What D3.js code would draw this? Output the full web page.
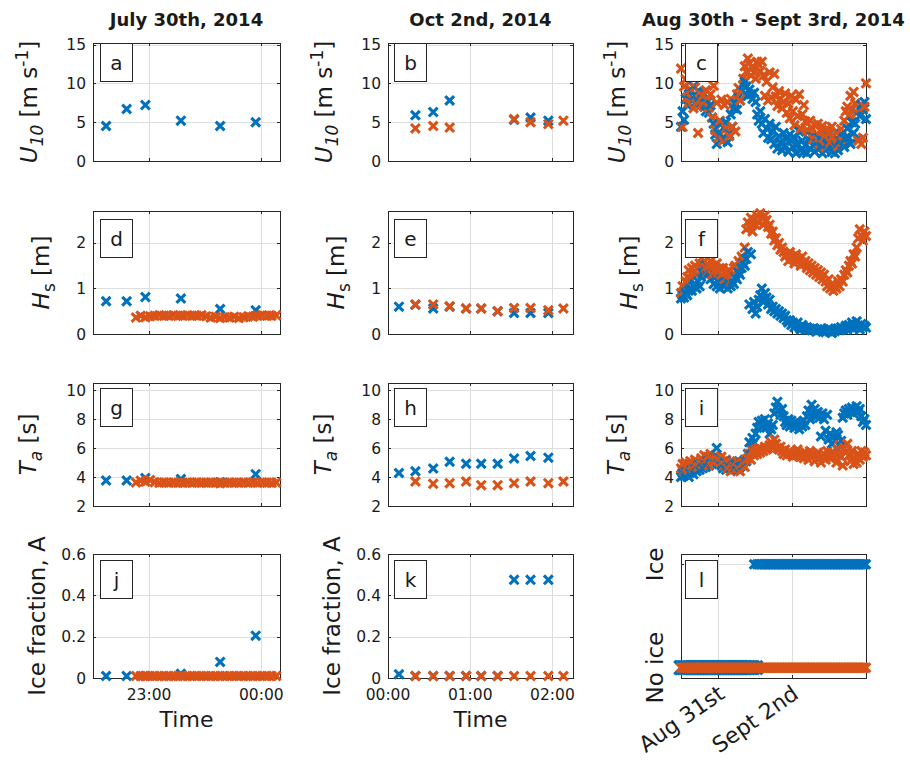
<!DOCTYPE html>
<html>
<head>
<meta charset="utf-8">
<script src="https://cdn.jsdelivr.net/npm/d3@7"></script>
<style>
  body { margin: 0; background: #fff; }
  text { font-family: "DejaVu Sans", sans-serif; fill: #1a1a1a; }
</style>
</head>
<body>
<svg id="fig" width="910" height="762"></svg>
<script>
// ---------- column titles and panel letters ----------
const colTitles = ["July 30th, 2014", "Oct 2nd, 2014", "Aug 30th - Sept 3rd, 2014"];
const panelLetters = [["a","b","c"],["d","e","f"],["g","h","i"],["j","k","l"]];

// ---------- July 30th, 2014 ----------
const julyBlueTimes = ["22:37","22:48","22:58","23:17","23:38","23:57"];
const julyBlueU10 = [4.5, 6.7, 7.2, 5.2, 4.5, 5.0];
const julyBlueHs  = [0.72, 0.72, 0.81, 0.78, 0.55, 0.52];
const julyBlueTa  = [3.76, 3.76, 3.93, 3.86, 3.65, 4.2];
const julyBlueA   = [0.01, 0.01, 0.01, 0.02, 0.078, 0.205];

const julyOrangeStart = "2014-07-30 22:53";
const julyOrangeStepMin = 2.5;
const julyOrangeHs = [0.36,0.40,0.37,0.39,0.40,0.41,0.40,0.40,0.41,0.40,
                      0.40,0.41,0.40,0.40,0.41,0.39,0.36,0.38,0.35,0.37,
                      0.36,0.38,0.35,0.37,0.39,0.38,0.40,0.41,0.40,0.40,0.41];
const julyOrangeTa = [3.62,3.75,3.68,3.80,3.64,3.60,3.62,3.60,3.62,3.60,
                      3.60,3.62,3.60,3.63,3.60,3.60,3.62,3.60,3.58,3.60,
                      3.62,3.60,3.60,3.62,3.60,3.63,3.60,3.62,3.60,3.60,3.62];
const julyOrangeA  = [0.01,0.01,0.01,0.01,0.01,0.01,0.01,0.01,0.01,0.01,
                      0.01,0.01,0.01,0.01,0.01,0.01,0.01,0.01,0.01,0.01,
                      0.01,0.01,0.01,0.01,0.01,0.01,0.01,0.01,0.01,0.01,0.01];

// ---------- Oct 2nd, 2014 ----------
const octTimes = ["00:08","00:20","00:33","00:45","00:57","01:08","01:20","01:32","01:44","01:57","02:08"];
const octBlueU10   = [null, 5.9, 6.3, 7.8, null, null, null, 5.3, 5.6, 5.2, null];
const octOrangeU10 = [null, 4.2, 4.5, 4.3, null, null, null, 5.4, 5.0, 4.75, 5.2];
const octBlueHs    = [0.60, 0.64, 0.56, 0.60, 0.56, 0.56, 0.50, 0.46, 0.46, 0.46, null];
const octOrangeHs  = [null, 0.65, 0.65, 0.61, 0.56, 0.56, 0.50, 0.57, 0.57, 0.52, 0.56];
const octBlueTa    = [4.28, 4.40, 4.59, 5.06, 4.92, 4.92, 4.92, 5.29, 5.46, 5.34, null];
const octOrangeTa  = [null, 3.69, 3.53, 3.58, 3.69, 3.44, 3.44, 3.58, 3.69, 3.58, 3.69];
const octBlueA     = [0.018, 0.01, 0.01, 0.01, 0.01, 0.01, 0.01, 0.475, 0.475, 0.475, null];
const octOrangeA   = [null, 0.01, 0.01, 0.01, 0.01, 0.01, 0.01, 0.01, 0.01, 0.01, 0.01];

// ---------- Aug 30th - Sept 3rd, 2014 (hourly records) ----------
const augStart = "2014-08-30 00:00";
const augEnd = "2014-09-04 00:00";
const augBlueU10 = [
  4.4, 6.4, 5.3, 8.0, 7.2, 8.6, 9.2, 7.8, 9.6, 8.4,
  7.6, 9.0, 8.2, 7.4, 8.8, 7.0, 6.4, 7.6, 6.2, 7.2,
  5.6, 4.8, 3.4, 2.2, 3.6, 4.8, 2.6, 3.0, 4.2, 5.0,
  2.4, 3.4, 6.0, 4.4, 6.8, 7.4, 6.6, 8.2, 7.8, 9.0,
  9.8, 10.2, 9.6, 8.4, 9.2, 8.6, 8.0, 8.8, 7.6, 6.0,
  5.2, 6.4, 4.8, 3.6, 5.4, 4.2, 3.0, 4.8, 2.8, 3.8,
  2.2, 4.4, 1.6, 3.2, 2.4, 1.4, 3.6, 2.0, 2.8, 1.2,
  3.4, 2.6, 1.8, 3.0, 1.0, 2.2, 3.8, 1.4, 2.6, 1.2,
  2.0, 1.0, 2.8, 1.6, 3.2, 2.0, 1.2, 2.4, 1.6, 3.0,
  1.8, 1.0, 2.6, 1.4, 2.2, 3.4, 1.8, 1.2, 2.4, 1.0,
  1.8, 1.4, 2.6, 3.4, 2.2, 1.8, 3.0, 4.2, 3.0, 2.2,
  5.0, 3.6, 4.8, 6.2, 2.8, 5.8, 7.2, 6.6, 7.6, 5.4];
const augOrangeU10 = [
  11.9, 4.4, 9.6, 10.5, 8.2, 7.5, 9.2, 8.0, 6.8, 9.5,
  7.4, 3.6, 8.8, 7.2, 8.4, 7.0, 9.1, 7.8, 6.9, 8.6,
  5.6, 9.7, 4.0, 7.5, 3.0, 5.2, 7.9, 2.6, 7.2, 4.2,
  7.6, 3.2, 8.0, 4.4, 7.4, 3.8, 8.6, 9.4, 7.8, 9.0,
  10.6, 12.2, 11.5, 13.2, 12.6, 11.0, 12.0, 11.4, 10.6, 12.8,
  12.4, 11.6, 12.8, 11.0, 8.4, 10.2, 7.8, 11.4, 8.2, 9.5,
  11.2, 8.3, 7.1, 9.0, 8.0, 6.8, 7.6, 8.7, 6.2, 7.4,
  5.5, 8.4, 6.4, 4.6, 7.9, 5.8, 8.6, 4.2, 6.0, 7.2,
  5.1, 4.0, 3.8, 5.2, 4.3, 2.8, 4.6, 3.4, 4.8, 2.2,
  3.9, 4.5, 3.0, 1.8, 4.2, 3.5, 2.4, 4.4, 3.2, 2.6,
  3.8, 1.9, 3.3, 4.1, 2.5, 5.2, 6.4, 7.0, 5.8, 8.4,
  6.6, 8.9, 7.4, 6.2, 2.6, 6.8, 2.2, 3.0, 7.0, 10.0];
const augBlueHs = [
  0.78, 0.85, 0.80, 0.90, 0.85, 0.95, 1.00, 0.95, 1.05, 1.10,
  1.00, 1.15, 1.05, 1.25, 1.35, 1.45, 1.50, 1.30, 1.35, 1.20,
  1.30, 1.10, 1.25, 1.05, 1.15, 1.00, 1.20, 1.10, 1.05, 1.15,
  1.00, 1.10, 1.05, 1.15, 1.10, 1.25, 1.20, 1.35, 1.30, 1.45,
  1.55, 1.50, 1.65, 1.80, 0.65, 1.75, 0.55, 0.70, 0.45, 0.60,
  0.75, 0.85, 1.00, 0.70, 0.90, 0.80, 0.65, 0.75, 0.55, 0.60,
  0.50, 0.55, 0.45, 0.50, 0.40, 0.45, 0.35, 0.40, 0.30, 0.25,
  0.30, 0.20, 0.25, 0.15, 0.20, 0.25, 0.15, 0.10, 0.20, 0.15,
  0.10, 0.15, 0.10, 0.12, 0.08, 0.12, 0.10, 0.05, 0.10, 0.08,
  0.12, 0.06, 0.10, 0.04, 0.08, 0.12, 0.05, 0.02, 0.08, 0.06,
  0.10, 0.12, 0.08, 0.15, 0.10, 0.12, 0.18, 0.10, 0.20, 0.15,
  0.25, 0.12, 0.20, 0.28, 0.18, 0.10, 0.22, 0.15, 0.18, 0.14];
const augOrangeHs = [
  0.90, 1.05, 0.95, 1.15, 1.25, 1.40, 1.20, 1.45, 1.35, 1.50,
  1.30, 1.45, 1.55, 1.40, 1.55, 1.60, 1.45, 1.35, 1.50, 1.60,
  1.30, 1.50, 1.40, 1.55, 1.35, 1.45, 1.30, 1.45, 1.20, 1.35,
  1.25, 1.40, 1.15, 1.30, 1.45, 1.50, 1.40, 1.60, 1.55, 1.70,
  1.65, 1.90, 2.30, 2.45, 2.35, 2.55, 2.25, 2.50, 2.40, 2.60,
  2.45, 2.65, 2.55, 2.40, 2.60, 2.50, 2.35, 2.40, 2.20, 2.25,
  2.05, 2.10, 1.95, 2.00, 1.85, 1.90, 1.80, 1.70, 1.75, 1.60,
  1.80, 1.65, 1.70, 1.55, 1.75, 1.60, 1.65, 1.50, 1.70, 1.55,
  1.60, 1.45, 1.55, 1.40, 1.50, 1.35, 1.45, 1.30, 1.40, 1.25,
  1.35, 1.20, 1.30, 1.15, 1.05, 1.20, 1.00, 1.10, 0.95, 1.05,
  1.00, 1.15, 1.05, 1.20, 1.15, 1.30, 1.40, 1.35, 1.50, 1.60,
  1.55, 1.75, 1.70, 1.90, 2.10, 2.30, 2.15, 2.05, 2.25, 2.15];
const augBlueTa = [
  4.0, 4.3, 4.1, 4.4, 4.2, 4.0, 4.3, 4.5, 4.2, 4.6,
  4.4, 4.8, 4.5, 4.9, 4.6, 5.0, 4.7, 5.1, 4.8, 5.2,
  4.9, 5.0, 5.4, 6.0, 5.3, 5.0, 4.8, 4.6, 5.0, 4.5,
  4.7, 4.9, 4.6, 5.1, 4.8, 4.6, 4.9, 4.5, 4.7, 5.0,
  4.8, 5.2, 5.1, 5.6, 6.4, 6.0, 6.7, 6.4, 7.0, 7.4,
  7.8, 7.5, 7.9, 7.6, 8.0, 7.4, 7.7, 7.0, 7.3, 7.6,
  8.4, 8.8, 9.2, 8.6, 8.3, 8.7, 8.2, 7.8, 7.6, 8.0,
  7.5, 7.9, 7.7, 7.4, 7.8, 7.6, 7.3, 7.7, 7.5, 7.9,
  7.6, 8.2, 8.6, 8.0, 9.0, 8.4, 8.7, 8.2, 8.5, 8.1,
  6.8, 8.4, 8.0, 7.2, 8.3, 6.6, 7.0, 6.3, 6.8, 6.5,
  7.1, 6.9, 6.2, 6.5, 8.1, 8.4, 8.6, 8.3, 8.7, 8.5,
  8.8, 8.4, 8.6, 8.9, 8.5, 8.7, 8.2, 7.8, 8.0, 7.6];
const augOrangeTa = [
  4.6, 4.9, 4.4, 5.0, 4.7, 4.5, 5.1, 4.8, 4.6, 5.2,
  4.9, 4.7, 5.0, 5.3, 4.9, 5.5, 5.1, 5.4, 4.8, 5.6,
  5.2, 5.0, 5.5, 5.3, 5.2, 5.0, 5.4, 5.1, 4.8, 5.2,
  4.6, 4.9, 4.4, 5.0, 4.7, 4.5, 5.1, 4.6, 4.4, 4.9,
  5.0, 4.7, 5.2, 5.3, 5.6, 5.2, 5.8, 5.5, 5.9, 5.6,
  6.0, 5.7, 5.9, 5.8, 6.1, 5.9, 6.0, 6.2, 6.4, 6.1,
  6.6, 6.3, 6.0, 5.9, 6.1, 5.8, 5.6, 5.9, 5.5, 5.7,
  5.8, 5.6, 5.4, 5.7, 5.5, 5.9, 5.6, 5.4, 5.6, 5.3,
  5.7, 5.5, 5.2, 5.8, 5.4, 5.6, 5.1, 5.5, 5.7, 5.3,
  5.0, 5.4, 5.6, 5.2, 5.8, 5.5, 5.3, 5.7, 5.4, 5.6,
  5.0, 5.9, 6.2, 5.4, 4.8, 6.0, 5.7, 6.3, 5.5, 5.1,
  5.8, 4.9, 5.3, 5.0, 5.6, 5.2, 5.8, 5.4, 5.7, 5.5];
// ice flag: 0 = no ice, 1 = ice
const augBlueIce = [
  0,0,0,0,0,0,0,0,0,0, 0,0,0,0,0,0,0,0,0,0,
  0,0,0,0,0,0,0,0,0,0, 0,0,0,0,0,0,0,0,0,0,
  0,0,0,0,0,0,0,1,0,1, 1,1,1,1,1,1,1,1,1,1,
  1,1,1,1,1,1,1,1,1,1, 1,1,1,1,1,1,1,1,1,1,
  1,1,1,1,1,1,1,1,1,1, 1,1,1,1,1,1,1,1,1,1,
  1,1,1,1,1,1,1,1,1,1, 1,1,1,1,1,1,1,1,1,1];
const augOrangeIce = [
  0,0,0,0,0,0,0,0,0,0, 0,0,0,0,0,0,0,0,0,0,
  0,0,0,0,0,0,0,0,0,0, 0,0,0,0,0,0,0,0,0,0,
  0,0,0,0,0,0,0,0,0,0, 0,0,0,0,0,0,0,0,0,0,
  0,0,0,0,0,0,0,0,0,0, 0,0,0,0,0,0,0,0,0,0,
  0,0,0,0,0,0,0,0,0,0, 0,0,0,0,0,0,0,0,0,0,
  0,0,0,0,0,0,0,0,0,0, 0,0,0,0,0,0,0,0,0,0];

// ---------- axis limits and ticks ----------
const xDomainText = [["2014-07-30 22:30","2014-07-31 00:10"],["2014-10-02 00:00","2014-10-02 02:15"],["2014-08-30 00:00","2014-09-04 00:00"]];
const xTickText = [["2014-07-30 23:00","2014-07-31 00:00"],["2014-10-02 00:00","2014-10-02 01:00","2014-10-02 02:00"],["2014-08-31 00:00","2014-09-02 00:00"]];
const xTickLabels = [["23:00","00:00"],["00:00","01:00","02:00"],["Aug 31st","Sept 2nd"]];
const yDomains = [[0, 15.2], [0, 2.7], [2, 10.5], [0, 0.6]];
const yTicks = [[0,5,10,15],[0,1,2],[2,4,6,8,10],[0,0.2,0.4,0.6]];
const yTickLabels = [["0","5","10","15"],["0","1","2"],["2","4","6","8","10"],["0","0.2","0.4","0.6"]];
const iceDomain = [-0.1, 1.1];
const iceTicks = [0, 1];
const iceTickLabels = ["No ice", "Ice"];

// ---------- layout & style ----------
const BLUE = "#0072BD", ORANGE = "#D95319", AXIS = "#262626", GRID = "#dedede";
const colLeft = [93, 388, 681];
const colWidth = [187, 185, 185];
const rowTop = [43, 211, 383, 554];
const rowHeight = [118, 123, 123, 124];
const ylabelOffset = [-56, -44, -57, -48];
const letterDx = [7, 6, 4];
const letterDy = [0, 8, 5, 6];

const parseT = d3.timeParse("%Y-%m-%d %H:%M");
const svg = d3.select("#fig");

// time stamps
const julyBlueT = julyBlueTimes.map(s => parseT("2014-07-30 " + s));
const julyOrangeT0 = parseT(julyOrangeStart);
const julyOrangeT = julyOrangeHs.map((_, k) => new Date(julyOrangeT0.getTime() + k * julyOrangeStepMin * 60000));
const octT = octTimes.map(s => parseT("2014-10-02 " + s));
const augT0 = parseT(augStart), augT1 = parseT(augEnd);
const augT = augBlueU10.map((_, i) => new Date(augT0.getTime() + i * (augT1 - augT0) / (augBlueU10.length - 1)));

const zip = (ts, vs) => ts.map((t, i) => ({t, v: vs[i]})).filter(d => d.v !== null && d.v !== undefined);

// series per [row][col]
const panels = [
  [
    [{d: zip(julyBlueT, julyBlueU10), c: BLUE}],
    [{d: zip(octT, octBlueU10), c: BLUE}, {d: zip(octT, octOrangeU10), c: ORANGE}],
    [{d: zip(augT, augBlueU10), c: BLUE}, {d: zip(augT, augOrangeU10), c: ORANGE}]
  ],
  [
    [{d: zip(julyBlueT, julyBlueHs), c: BLUE}, {d: zip(julyOrangeT, julyOrangeHs), c: ORANGE}],
    [{d: zip(octT, octBlueHs), c: BLUE}, {d: zip(octT, octOrangeHs), c: ORANGE}],
    [{d: zip(augT, augBlueHs), c: BLUE}, {d: zip(augT, augOrangeHs), c: ORANGE}]
  ],
  [
    [{d: zip(julyBlueT, julyBlueTa), c: BLUE}, {d: zip(julyOrangeT, julyOrangeTa), c: ORANGE}],
    [{d: zip(octT, octBlueTa), c: BLUE}, {d: zip(octT, octOrangeTa), c: ORANGE}],
    [{d: zip(augT, augBlueTa), c: BLUE}, {d: zip(augT, augOrangeTa), c: ORANGE}]
  ],
  [
    [{d: zip(julyBlueT, julyBlueA), c: BLUE}, {d: zip(julyOrangeT, julyOrangeA), c: ORANGE}],
    [{d: zip(octT, octBlueA), c: BLUE}, {d: zip(octT, octOrangeA), c: ORANGE}],
    [{d: zip(augT, augBlueIce), c: BLUE, big: true}, {d: zip(augT, augOrangeIce), c: ORANGE}]
  ]
];

const ylabels = [
  [{t: "U", it: 1}, {t: "10", it: 1, sub: 1}, {t: " [m s"}, {t: "-1", sup: 1}, {t: "]"}],
  [{t: "H", it: 1}, {t: "s", sub: 1}, {t: " [m]"}],
  [{t: "T", it: 1}, {t: "a", it: 1, sub: 1}, {t: " [s]"}],
  [{t: "Ice fraction, A"}]
];

const xMark = r => `M${-r},${-r}L${r},${r}M${-r},${r}L${r},${-r}`;

function drawYLabel(g, x, yc, parts) {
  const txt = g.append("text")
    .attr("transform", `translate(${x},${yc}) rotate(-90)`)
    .attr("text-anchor", "middle")
    .style("font-size", "23px");
  let shift = 0;
  parts.forEach(p => {
    const target = p.sub ? 6 : (p.sup ? -9 : 0);
    const ts = txt.append("tspan").text(p.t).attr("dy", target - shift);
    shift = target;
    if (p.it) ts.style("font-style", "italic");
    if (p.sub || p.sup) ts.style("font-size", "17px");
  });
}

for (let r = 0; r < 4; r++) {
  for (let c = 0; c < 3; c++) {
    const x0 = colLeft[c], w = colWidth[c], y0 = rowTop[r], h = rowHeight[r];
    const isIce = (r === 3 && c === 2);
    const x = d3.scaleTime().domain(xDomainText[c].map(parseT)).range([x0, x0 + w]);
    const y = d3.scaleLinear().domain(isIce ? iceDomain : yDomains[r]).range([y0 + h, y0]);
    const ticksY = isIce ? iceTicks : yTicks[r];
    const ticksX = xTickText[c].map(parseT);
    const g = svg.append("g");

    // grid
    g.selectAll(null).data(ticksX).join("line")
      .attr("x1", d => Math.round(x(d)) + 0.5).attr("x2", d => Math.round(x(d)) + 0.5)
      .attr("y1", y0).attr("y2", y0 + h).attr("stroke", GRID).attr("stroke-width", 1);
    g.selectAll(null).data(ticksY).join("line")
      .attr("y1", d => Math.round(y(d)) + 0.5).attr("y2", d => Math.round(y(d)) + 0.5)
      .attr("x1", x0).attr("x2", x0 + w).attr("stroke", GRID).attr("stroke-width", 1);

    // box
    g.append("rect").attr("x", x0 + 0.5).attr("y", y0 + 0.5).attr("width", w).attr("height", h)
      .attr("fill", "none").attr("stroke", AXIS).attr("stroke-width", 1);

    // inward ticks on all sides
    const tl = 3;
    ticksX.forEach(t => {
      const xx = Math.round(x(t)) + 0.5;
      g.append("line").attr("x1", xx).attr("x2", xx).attr("y1", y0 + h).attr("y2", y0 + h - tl).attr("stroke", AXIS);
      g.append("line").attr("x1", xx).attr("x2", xx).attr("y1", y0).attr("y2", y0 + tl).attr("stroke", AXIS);
    });
    ticksY.forEach(v => {
      const yy = Math.round(y(v)) + 0.5;
      g.append("line").attr("y1", yy).attr("y2", yy).attr("x1", x0).attr("x2", x0 + tl).attr("stroke", AXIS);
      g.append("line").attr("y1", yy).attr("y2", yy).attr("x1", x0 + w).attr("x2", x0 + w - tl).attr("stroke", AXIS);
    });

    // y tick labels
    if (isIce) {
      ticksY.forEach((v, k) => {
        g.append("text").attr("transform", `translate(${x0 - 18},${y(v)}) rotate(-90)`)
          .attr("text-anchor", "middle").style("font-size", "23px").text(iceTickLabels[k]);
      });
    } else {
      ticksY.forEach((v, k) => {
        g.append("text").attr("x", x0 - 7).attr("y", y(v)).attr("dy", "0.36em")
          .attr("text-anchor", "end").style("font-size", "15.5px").text(yTickLabels[r][k]);
      });
      drawYLabel(g, x0 + ylabelOffset[r], y0 + h / 2, ylabels[r]);
    }

    // x tick labels on the bottom row
    if (r === 3) {
      if (c === 2) {
        ticksX.forEach((t, k) => {
          g.append("text").attr("transform", `translate(${x(t) + 8},${y0 + h + 19}) rotate(-35)`)
            .attr("text-anchor", "end").style("font-size", "22px").text(xTickLabels[c][k]);
        });
      } else {
        ticksX.forEach((t, k) => {
          g.append("text").attr("x", x(t)).attr("y", y0 + h + 22)
            .attr("text-anchor", "middle").style("font-size", "15.5px").text(xTickLabels[c][k]);
        });
        g.append("text").attr("x", x0 + w / 2).attr("y", y0 + h + 49)
          .attr("text-anchor", "middle").style("font-size", "22px").text("Time");
      }
    }

    // markers
    const series = panels[r][c];
    const mg = g.append("g").attr("fill", "none").attr("stroke-width", 3.1);
    const drawPt = (s, d) => {
      const rad = (s.big && d.v === 0) ? 6.8 : 4.4;
      mg.append("path").attr("d", xMark(rad))
        .attr("transform", `translate(${x(d.t)},${y(d.v)})`)
        .attr("stroke", s.c);
    };
    if (c === 2 && !isIce) {
      const n = Math.max(...series.map(s => s.d.length));
      for (let i = 0; i < n; i++) series.forEach(s => { if (s.d[i]) drawPt(s, s.d[i]); });
    } else {
      series.forEach(s => s.d.forEach(d => drawPt(s, d)));
    }

    // panel letter
    const lx = x0 + letterDx[c], ly = y0 + letterDy[r];
    g.append("rect").attr("x", lx + 0.5).attr("y", ly + 0.5).attr("width", 32).attr("height", 38)
      .attr("fill", "#fff").attr("stroke", AXIS).attr("stroke-width", 1);
    g.append("text").attr("x", lx + 16.5).attr("y", ly + 19.5).attr("dy", "0.36em")
      .attr("text-anchor", "middle").style("font-size", "20px").text(panelLetters[r][c]);

    // column title
    if (r === 0) {
      g.append("text").attr("x", x0 + w / 2).attr("y", y0 - 17)
        .attr("text-anchor", "middle").style("font-size", "18px").style("font-weight", "bold")
        .text(colTitles[c]);
    }
  }
}
</script>
</body>
</html>
